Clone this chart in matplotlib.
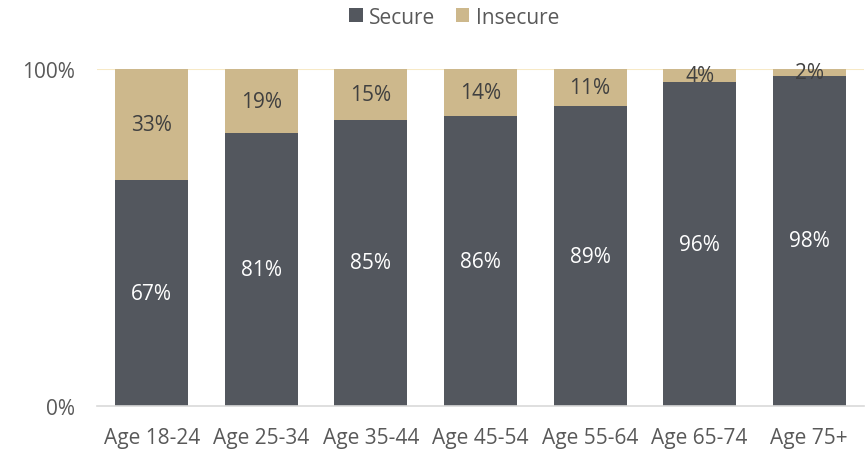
import matplotlib
matplotlib.use("Agg")
import matplotlib.pyplot as plt
import numpy as np

categories = ["Age 18-24", "Age 25-34", "Age 35-44", "Age 45-54", "Age 55-64", "Age 65-74", "Age 75+"]
secure = [67, 81, 85, 86, 89, 96, 98]
insecure = [33, 19, 15, 14, 11, 4, 2]

plt.rcParams['font.family'] = ['Open Sans', 'DejaVu Sans']

c_secure = "#53575e"
c_insecure = "#cdb88c"
tcol = "#595959"
FS = 15

fig = plt.figure(figsize=(8.67, 4.52), dpi=100)
ax = fig.add_axes([97 / 867, 1 - 407 / 452, (864 - 97) / 867, 337 / 452])

x = np.arange(len(categories))
w = 0.665
b1 = ax.bar(x, secure, w, color=c_secure, label="Secure", zorder=2)
b2 = ax.bar(x, insecure, w, bottom=secure, color=c_insecure, label="Insecure", zorder=2)

for i in range(len(categories)):
    ax.text(x[i], secure[i] / 2, f"{secure[i]}%", ha="center", va="center",
            color="white", fontsize=FS, zorder=3)
    ax.text(x[i], secure[i] + insecure[i] / 2, f"{insecure[i]}%", ha="center", va="center",
            color="#404040", fontsize=FS, zorder=3)

ax.set_xlim(-0.5, 6.5)
ax.set_ylim(0, 100)
ax.set_yticks([0, 100])
ax.set_yticklabels(["0%", "100%"])
ax.axhline(100, color="#f7e9c6", lw=1.5, zorder=1)
for s in ["top", "right", "left"]:
    ax.spines[s].set_visible(False)
ax.spines["bottom"].set_color("#d9d9d9")
ax.spines["bottom"].set_linewidth(1.2)
ax.set_xticks(x)
ax.set_xticklabels(categories)
ax.tick_params(axis="both", length=0, labelsize=FS, colors=tcol)
ax.tick_params(axis="x", pad=15)
ax.tick_params(axis="y", pad=16)

fig.legend(handles=[b1, b2], labels=["Secure", "Insecure"], loc="center",
           bbox_to_anchor=(454 / 867, 1 - 18 / 452), ncol=2, frameon=False,
           fontsize=15, handlelength=0.65, handleheight=0.65, handletextpad=0.3,
           columnspacing=1.0, labelcolor=tcol)

fig.savefig("out.png", dpi=100)
